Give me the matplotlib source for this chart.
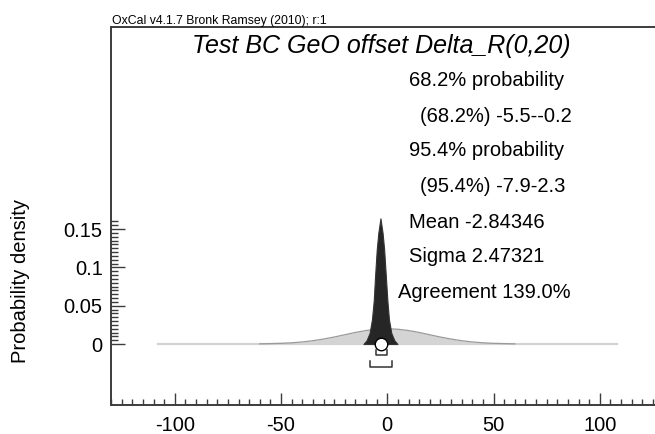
import numpy as np
import matplotlib
matplotlib.use("Agg")
import matplotlib.pyplot as plt
from matplotlib.ticker import MultipleLocator, FixedLocator

plt.rcParams['font.family'] = ['Liberation Sans', 'DejaVu Sans']
plt.rcParams['axes.unicode_minus'] = False

# prior Delta_R(0,20)
prior_x = [-108, -70, -60, -50, -45, -40, -35, -30, -25, -20, -15, -10, -5, 0,
           5, 10, 15, 20, 25, 30, 35, 40, 45, 50, 60, 70, 108]
prior_y = [0.0, 0.00004, 0.0002, 0.0009, 0.0016, 0.0027, 0.0043, 0.0065, 0.0091,
           0.0121, 0.0151, 0.0176, 0.0193, 0.0199, 0.0193, 0.0176, 0.0151, 0.0121,
           0.0091, 0.0065, 0.0043, 0.0027, 0.0016, 0.0009, 0.0002, 0.00004, 0.0]

# posterior
post_x = [-11.2, -9.7, -8.3, -7.2, -6.35, -5.7, -4.95, -4.2, -3.2,
          -2.2, -1.45, -0.7, 0.05, 0.8, 1.9, 3.3, 4.8]
post_y = [0.0, 0.005, 0.0144, 0.032, 0.057, 0.09, 0.123, 0.145, 0.164,
          0.145, 0.123, 0.09, 0.057, 0.032, 0.0144, 0.005, 0.0]

mean = -2.84346
range68 = [-5.5, -0.2]
range95 = [-7.9, 2.3]

lines = ["68.2% probability", "(68.2%) -5.5--0.2", "95.4% probability",
         "(95.4%) -7.9-2.3", "Mean -2.84346", "Sigma 2.47321", "Agreement 139.0%"]
line_x = [409, 420, 409, 420, 409, 409, 398]
line_y = [81, 116, 151, 186, 222, 257, 292]

W, H = 655, 434
fig = plt.figure(figsize=(W / 100, H / 100), dpi=100)
ax = fig.add_axes([111 / W, 29 / H, 1 - 111 / W, (405 - 27) / H])

# prior
ax.plot([prior_x[0], prior_x[-1]], [0, 0], color='#d2d2d2', lw=1.6, zorder=1)
ax.fill_between(prior_x, prior_y, 0, color='#d4d4d4', lw=0, zorder=2)
px = np.array(prior_x)
mid = np.abs(px) <= 60
ax.plot(px[mid], np.array(prior_y)[mid], color='#9a9a9a', lw=0.9, zorder=3)

# posterior
ax.fill_between(post_x, post_y, 0, facecolor='#262626', edgecolor='#333333',
                lw=0.8, zorder=4)

# mean marker and range brackets
ax.plot([mean], [0], 'o', ms=9, mfc='white', mec='black', mew=1.0, zorder=6,
        clip_on=False)
for r, y0, y1 in [(range68, -0.0078, -0.0144), (range95, -0.022, -0.030)]:
    ax.plot([r[0], r[0], r[1], r[1]], [y0, y1, y1, y0], color='#333333',
            lw=1.1, zorder=5)

ax.set_xlim(-130, 126)
ax.set_ylim(-0.0796, 0.4138)

ax.xaxis.set_major_locator(MultipleLocator(50))
ax.xaxis.set_minor_locator(MultipleLocator(5))
ax.yaxis.set_major_locator(FixedLocator([0, 0.05, 0.1, 0.15]))
ax.yaxis.set_minor_locator(FixedLocator(np.arange(0, 0.1601, 0.005)))
ax.yaxis.set_major_formatter(plt.FuncFormatter(lambda v, p: "%g" % round(v, 3)))

ax.tick_params(which='both', direction='in', color='#3c3c3c', width=1.0)
ax.tick_params(axis='x', which='major', length=9, pad=8, labelsize=14.5)
ax.tick_params(axis='x', which='minor', length=4)
ax.tick_params(axis='y', which='major', length=10, pad=6, labelsize=14.5)
ax.tick_params(axis='y', which='minor', length=5)

for s in ['left', 'bottom', 'top']:
    ax.spines[s].set_color('#3c3c3c')
    ax.spines[s].set_linewidth(1.4)
ax.spines['right'].set_visible(False)

fig.text(21 / W, 1 - 281 / H, "Probability density", fontsize=14.5,
         rotation=90, ha='center', va='center')

fig.text(112 / W, 1 - 24 / H, "OxCal v4.1.7 Bronk Ramsey (2010); r:1",
         fontsize=8.8, va='baseline', ha='left')
fig.text(381 / W, 1 - 46 / H, "Test BC GeO offset Delta_R(0,20)",
         fontsize=18, style='italic', ha='center', va='center')
for t, x, y in zip(lines, line_x, line_y):
    fig.text(x / W, 1 - y / H, t, fontsize=14.5, ha='left', va='center')

fig.savefig("out.png", dpi=100)
